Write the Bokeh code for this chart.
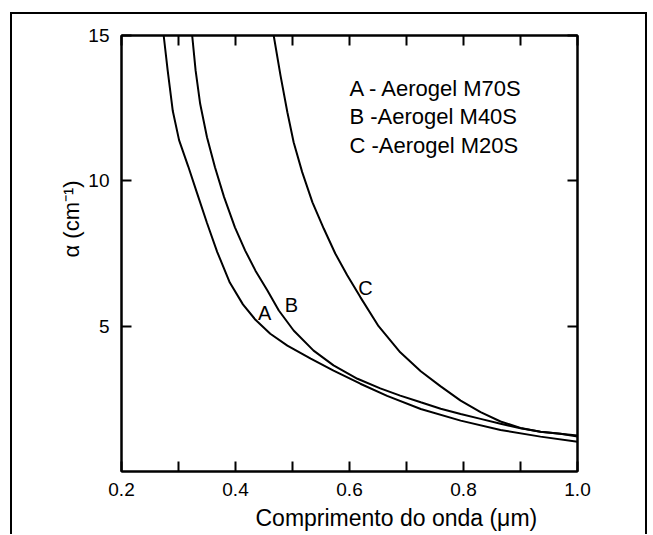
from bokeh.plotting import figure
from bokeh.models import Range1d, LinearAxis, FixedTicker, Label, Title
from bokeh.embed import file_html
from bokeh.resources import INLINE

# ---- data ----
lam_A = [0.274, 0.281, 0.290, 0.301, 0.317, 0.333, 0.350, 0.368, 0.390, 0.413, 0.435,
         0.461, 0.491, 0.532, 0.572, 0.619, 0.666, 0.725, 0.795, 0.865, 0.935, 1.0]
alpha_A = [15.0, 13.8, 12.4, 11.4, 10.5, 9.55, 8.55, 7.55, 6.5, 5.75, 5.22,
           4.74, 4.33, 3.88, 3.47, 3.02, 2.60, 2.15, 1.75, 1.43, 1.20, 1.02]

lam_B = [0.324, 0.330, 0.338, 0.350, 0.364, 0.380, 0.399, 0.417, 0.435, 0.456, 0.476,
         0.502, 0.537, 0.572, 0.614, 0.654, 0.689, 0.725, 0.760, 0.795, 0.830, 0.865,
         0.900, 0.935, 1.0]
alpha_B = [15.0, 13.8, 12.65, 11.5, 10.47, 9.44, 8.40, 7.6, 6.91, 6.23, 5.54,
           4.85, 4.16, 3.65, 3.19, 2.86, 2.61, 2.38, 2.16, 1.98, 1.81, 1.64,
           1.49, 1.37, 1.24]

lam_C = [0.467, 0.479, 0.491, 0.502, 0.517, 0.535, 0.555, 0.575, 0.596, 0.619, 0.651,
         0.689, 0.725, 0.760, 0.795, 0.830, 0.865, 0.900, 0.935, 0.970, 1.0]
alpha_C = [15.0, 13.62, 12.36, 11.33, 10.30, 9.26, 8.35, 7.5, 6.75, 6.0, 5.0,
           4.1, 3.45, 2.93, 2.44, 2.04, 1.72, 1.50, 1.37, 1.30, 1.20]

x_major = [0.2, 0.4, 0.6, 0.8, 1.0]
x_minor = [0.3, 0.5, 0.7, 0.9]
x_labels = ["0.2", "0.4", "0.6", "0.8", "1.0"]
y_major = [5, 10, 15]
y_labels = ["5", "10", "15"]

curve_letters = ["A", "B", "C"]
legend_rows = ["A - Aerogel M70S", "B -Aerogel M40S", "C -Aerogel M20S"]
x_title = "Comprimento do onda (μm)"
y_title = "α (cm⁻¹)"

FONT = "Liberation Sans"

p = figure(frame_width=456, frame_height=436, x_range=Range1d(0.2, 1.0), y_range=Range1d(0, 15),
           output_backend="svg", toolbar_location=None,
           min_border_left=121, min_border_top=35, min_border_right=72, min_border_bottom=56)
# page frame of the scanned figure (left, top and right edges)
p.styles = {
    "background": ("linear-gradient(#000,#000) 10px 12px / 2px 525px no-repeat, "
                   "linear-gradient(#000,#000) 10px 12px / 637px 2px no-repeat, "
                   "linear-gradient(#000,#000) 645px 12px / 2px 525px no-repeat, #fff"),
}
p.border_fill_color = None
p.background_fill_color = "white"
p.grid.visible = False
p.outline_line_color = "black"
p.outline_line_width = 2

def style_axis(ax, show_labels):
    ax.axis_line_color = "black"
    ax.axis_line_width = 2
    ax.major_tick_in = 10
    ax.major_tick_out = 0
    ax.minor_tick_in = 10
    ax.minor_tick_out = 0
    ax.major_tick_line_width = 2
    ax.minor_tick_line_width = 2
    ax.major_tick_line_color = "black"
    ax.minor_tick_line_color = "black"
    ax.major_label_text_font = FONT
    ax.major_label_text_font_size = "19px"
    ax.major_label_text_color = "black" if show_labels else None
    if not show_labels:
        ax.major_label_text_font_size = "0px"

xb = p.xaxis[0]
xb.ticker = FixedTicker(ticks=x_major, minor_ticks=x_minor)
xb.major_label_overrides = {v: s for v, s in zip(x_major, x_labels)}
style_axis(xb, True)
xb.major_label_standoff = 11

yl = p.yaxis[0]
yl.ticker = FixedTicker(ticks=y_major, minor_ticks=[])
yl.major_label_overrides = {v: s for v, s in zip(y_major, y_labels)}
style_axis(yl, True)
yl.major_label_standoff = 12

xt = LinearAxis(ticker=FixedTicker(ticks=x_major, minor_ticks=x_minor))
style_axis(xt, False)
p.add_layout(xt, "above")

yr = LinearAxis(ticker=FixedTicker(ticks=y_major, minor_ticks=[]))
style_axis(yr, False)
p.add_layout(yr, "right")

for lam, al in [(lam_A, alpha_A), (lam_B, alpha_B), (lam_C, alpha_C)]:
    p.line(lam, al, line_color="black", line_width=2)

# curve letters
letter_pos = [(0.451, 5.44), (0.498, 5.74), (0.628, 6.3)]
for t, (lx, ly) in zip(curve_letters, letter_pos):
    p.add_layout(Label(x=lx, y=ly, text=t, text_font=FONT, text_font_size="20px",
                       text_align="center", text_baseline="middle", text_color="black"))

# legend text rows
for i, row in enumerate(legend_rows):
    p.add_layout(Label(x=0.6, y=13.18 - 0.98 * i, text=row, text_font=FONT,
                       text_font_size="22px", text_align="left", text_baseline="middle",
                       text_color="black"))

# axis titles (side titles, offset like in the original)
p.add_layout(Title(text=x_title, align="left", offset=134, standoff=8,
                   text_font=FONT, text_font_size="23px", text_font_style="normal",
                   text_color="black"), "below")
p.add_layout(Title(text=y_title, align="left", offset=214, standoff=4,
                   text_font=FONT, text_font_size="22px", text_font_style="normal",
                   text_color="black"), "left")

open("out.html", "w").write(file_html(p, INLINE))
